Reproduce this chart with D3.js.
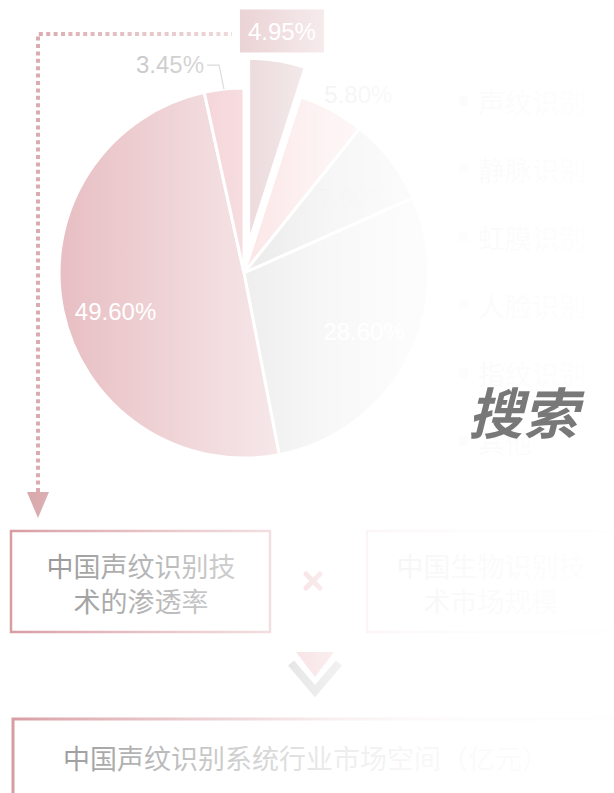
<!DOCTYPE html>
<html><head><meta charset="utf-8">
<script src="https://cdn.jsdelivr.net/npm/d3@7"></script>
<style>html,body{margin:0;padding:0;background:#fff;overflow:hidden}</style>
</head><body>
<svg id="c" width="614" height="793"></svg>
<script>
// ---- data ----
const categories = ["声纹识别","静脉识别","虹膜识别","人脸识别","指纹识别","其他"];
const shares = [4.95, 5.80, 7.60, 28.60, 49.60, 3.45];
const shareLabels = ["4.95%","5.80%","7.60%","28.60%","49.60%","3.45%"];
const formulaLeft = ["中国声纹识别技","术的渗透率"];
const formulaRight = ["中国生物识别技","术市场规模"];
const resultTitle = "中国声纹识别系统行业市场空间（亿元）";
const watermark = "搜索";

// ---- styles ----
const sliceColors = ["#c8979b","#f5b9bb","#c5c5c8","#d0d0d0","#e0aab0","#e8a0a8"];
const labelMode = ["box","outside","inside","inside","inside","leader"];
const labelFill = ["#fff","#b8b8b8","#bababa","#fff","#fff","#a3a3a3"];
const labelNudge = [[0,0],[14,8],[4,6],[2,-3],[2,11],[0,0]];
const W = 614, H = 793, cx = 244, cy = 273, R = 185, explode = 30;
const numFont = "'Liberation Sans', Arial, sans-serif";
const cjkFont = "'Noto Sans CJK SC', sans-serif";

const svg = d3.select("#c");
const defs = svg.append("defs");
const fade = defs.append("linearGradient").attr("id","fade")
  .attr("gradientUnits","userSpaceOnUse").attr("x1",0).attr("x2",W).attr("y1",0).attr("y2",0);
[[0,0.05],[50,0.22],[200,0.56],[260,0.68],[300,0.78],[330,0.85],[400,0.93],[470,0.965],[614,0.99]]
  .forEach(([x,o]) => fade.append("stop").attr("offset", x/W).attr("stop-color","#fff").attr("stop-opacity", o));

const g = svg.append("g");
const color = d3.scaleOrdinal().domain(categories).range(sliceColors);
const data = categories.map((c,i) => ({cat:c, v:shares[i], label:shareLabels[i], i}));
const arcs = d3.pie().sort(null).value(d => d.v)(data);
const arc = d3.arc().innerRadius(0).outerRadius(R);
const mid = a => (a.startAngle + a.endAngle)/2;
const polar = (ang, r) => [cx + r*Math.sin(ang), cy - r*Math.cos(ang)];

const pieG = g.append("g").attr("transform", `translate(${cx},${cy})`);
pieG.selectAll("path").data(arcs).join("path")
  .attr("d", arc)
  .attr("fill", d => color(d.data.cat))
  .attr("stroke", "#fff").attr("stroke-width", 3)
  .attr("transform", d => d.index === 0
      ? `translate(${explode*Math.sin(mid(d))},${-explode*Math.cos(mid(d))})` : null);

// labels
arcs.forEach(a => {
  const i = a.index, m = mid(a), mode = labelMode[i], [nx, ny] = labelNudge[i];
  if (mode === "inside") {
    const [x,y] = polar(m, R*0.72);
    g.append("text").attr("x", x+nx).attr("y", y+ny).attr("text-anchor","middle")
      .attr("dominant-baseline","central").attr("font-family", numFont).attr("font-size", 24)
      .attr("fill", labelFill[i]).text(a.data.label);
  } else if (mode === "outside") {
    const [x,y] = polar(m, R+27);
    g.append("text").attr("x", x+nx).attr("y", y+ny).attr("text-anchor","middle")
      .attr("dominant-baseline","central").attr("font-family", numFont).attr("font-size", 24)
      .attr("fill", labelFill[i]).text(a.data.label);
  } else if (mode === "box") {
    const [x,y] = polar(m, R+explode+30);
    g.append("rect").attr("x", x-42).attr("y", y-21.5).attr("width", 84).attr("height", 43)
      .attr("fill", "#c8868c");
    g.append("text").attr("x", x).attr("y", y+1).attr("text-anchor","middle")
      .attr("dominant-baseline","central").attr("font-family", numFont).attr("font-size", 24)
      .attr("fill", labelFill[i]).text(a.data.label);
  } else if (mode === "leader") {
    const [x0,y0] = polar(m, R);
    const ex = x0-5, ey = y0-24;
    g.append("path").attr("d", `M${x0},${y0}L${ex},${ey}H${ex-12}`)
      .attr("fill","none").attr("stroke","#a8a8a8").attr("stroke-width",1.2);
    g.append("text").attr("x", ex-15).attr("y", ey-1).attr("text-anchor","end")
      .attr("dominant-baseline","central").attr("font-family", numFont).attr("font-size", 24)
      .attr("fill", labelFill[i]).text(a.data.label);
  }
});

// legend
const leg = g.append("g");
categories.forEach((c,i) => {
  const y = 101 + i*68;
  leg.append("rect").attr("x",459).attr("y",y-4.5).attr("width",9).attr("height",9).attr("fill", color(c));
  leg.append("text").attr("x",478).attr("y",y).attr("dominant-baseline","central")
    .attr("font-family", cjkFont).attr("font-size",27).attr("fill","#888").text(c);
});

// dotted connector + arrow
g.append("path").attr("d","M38,492V34H232").attr("fill","none")
  .attr("stroke","#d29a9f").attr("stroke-width",4).attr("stroke-dasharray","4 3.4");
g.append("path").attr("d","M27,492L49,492L38,518Z").attr("fill","#d29a9f");

// formula boxes
const boxStroke = "#d4939a";
g.append("rect").attr("x",11).attr("y",531).attr("width",259).attr("height",101)
  .attr("fill","none").attr("stroke",boxStroke).attr("stroke-width",2.5);
g.append("rect").attr("x",367).attr("y",531).attr("width",280).attr("height",101)
  .attr("fill","none").attr("stroke","#e4a0a8").attr("stroke-width",2.5);
formulaLeft.forEach((t,k) => g.append("text").attr("x",141).attr("y",565+k*35)
  .attr("text-anchor","middle").attr("dominant-baseline","central")
  .attr("font-family",cjkFont).attr("font-size",27).attr("fill","#7d7d7d").text(t));
formulaRight.forEach((t,k) => g.append("text").attr("x",491).attr("y",565+k*35)
  .attr("text-anchor","middle").attr("dominant-baseline","central")
  .attr("font-family",cjkFont).attr("font-size",27).attr("fill","#7d7d7d").text(t));
// multiply sign
g.append("path").attr("d","M306,574L320,588M320,574L306,588").attr("stroke","#e08890")
  .attr("stroke-width",5).attr("stroke-linecap","round");
// chevron
g.append("path").attr("d","M291,663L315,691L339,663").attr("fill","none")
  .attr("stroke","#9a9a9a").attr("stroke-width",8);
g.append("path").attr("d","M296,652L334,652L315,677Z").attr("fill","#e08a94");

// result box
g.append("rect").attr("x",13).attr("y",719).attr("width",640).attr("height",120)
  .attr("fill","none").attr("stroke",boxStroke).attr("stroke-width",3);
g.append("text").attr("x",63).attr("y",757).attr("dominant-baseline","central")
  .attr("font-family",cjkFont).attr("font-size",27).attr("fill","#7d7d7d").text(resultTitle);

// fade overlay
svg.append("rect").attr("x",0).attr("y",0).attr("width",W).attr("height",H).attr("fill","url(#fade)");

// watermark
svg.append("text").attr("x",468).attr("y",410).attr("dominant-baseline","central")
  .attr("font-family",cjkFont).attr("font-size",55).attr("font-weight","bold")
  .attr("font-style","italic").attr("fill","#787878").text(watermark);
</script>
</body></html>
